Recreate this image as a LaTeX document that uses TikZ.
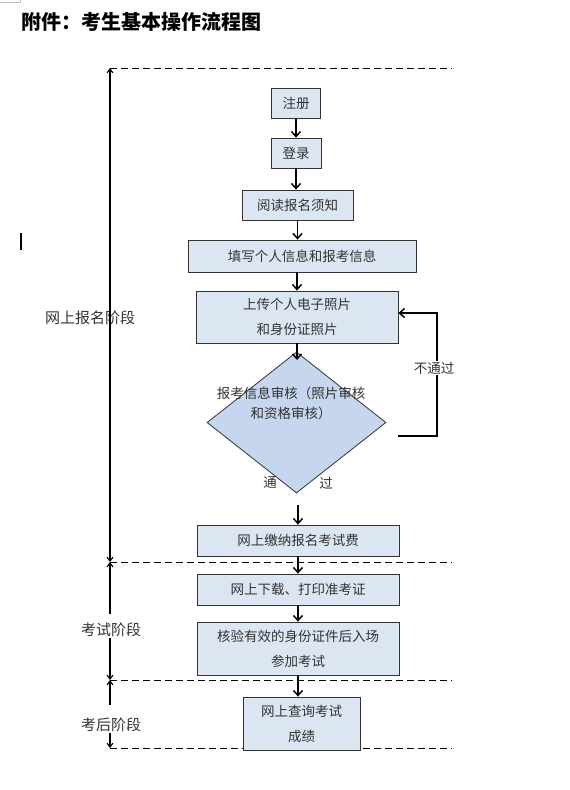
\documentclass[tikz,border=0pt]{standalone}
\usepackage{fontspec}
\setmainfont{Noto Sans CJK SC}
\usetikzlibrary{arrows.meta,shapes.geometric}
\definecolor{boxfill}{HTML}{DCE6F2}
\definecolor{dmdfill}{HTML}{C6D6EE}
\definecolor{txt}{HTML}{333333}
\begin{document}
\begin{tikzpicture}[x=1pt,y=-1pt,
  stepbox/.style={draw=black!80, line width=0.8pt, fill=boxfill, inner sep=0pt, align=center, text=txt, font=\fontsize{13.5}{25}\selectfont},
  arr/.style={line width=1.8pt, line join=miter, -{Straight Barb[length=5pt,width=9pt,line width=1.5pt]}},
  stagedbl/.style={line width=1.1pt, {Straight Barb[length=4pt,width=6pt]}-{Straight Barb[length=4pt,width=6pt]}},
  stageone/.style={line width=1.1pt, -{Straight Barb[length=4pt,width=6pt]}},
  divider/.style={dash pattern=on 7pt off 4pt, line width=0.9pt},
  stagelbl/.style={font=\fontsize{15}{18}\selectfont, text=txt, inner sep=1pt},
  smalllbl/.style={font=\fontsize{13.5}{20}\selectfont, text=txt, inner sep=1pt, align=center}]
\useasboundingbox (0,0) rectangle (570,790);
\fill[white] (0,0) rectangle (570,790);
% artefacts
\draw[gray!50, line width=0.6pt] (0,2) -- (20,2) -- (20,0);
\draw[line width=2pt] (21,233) -- (21,250);
% title
\node[anchor=west, font=\bfseries\fontsize{20}{22}\selectfont, inner sep=0pt] (title) at (21,22) {附件：考生基本操作流程图};
% dividers
\coordinate (d1l) at (110,68);  \coordinate (d1r) at (452,68);
\coordinate (d2l) at (110,562); \coordinate (d2r) at (452,562);
\coordinate (d3l) at (110,680); \coordinate (d3r) at (452,680);
\coordinate (d4l) at (110,748); \coordinate (d4r) at (452,748);
\draw[divider] (d1l) -- (d1r);
\draw[divider] (d2l) -- (d2r);
\draw[divider] (d3l) -- (d3r);
\draw[divider] (d4l) -- (d4r);
% stage labels
\node[stagelbl] (s1) at (90,318) {网上报名阶段};
\draw[stagedbl] (d1l) -- (d2l);
\node[stagelbl] (s2) at (111,630) {考试阶段};
\coordinate (s2a) at (110,614); \coordinate (s2b) at (110,638);
\draw[stageone] (s2a) -- (d2l);
\draw[stageone] (s2b) -- (d3l);
\node[stagelbl] (s3) at (111,725) {考后阶段};
\coordinate (s3a) at (110,705); \coordinate (s3b) at (110,733);
\draw[stageone] (s3a) -- (d3l);
\draw[stageone] (s3b) -- (d4l);
% boxes
\node[stepbox, minimum width=49pt, minimum height=30pt] (reg) at (296,103) {注册};
\node[stepbox, minimum width=50pt, minimum height=30pt] (log) at (296,153) {登录};
\node[stepbox, minimum width=111pt, minimum height=30pt] (read) at (297.5,205) {阅读报名须知};
\node[stepbox, minimum width=228pt, minimum height=32pt] (fill) at (302,256) {填写个人信息和报考信息};
\node[stepbox, minimum width=202pt, minimum height=52pt] (up) at (297,317) {上传个人电子照片\\和身份证照片};
\node[diamond, draw=black!80, line width=0.8pt, fill=dmdfill, minimum width=179pt, minimum height=141pt, inner sep=0pt] (chk) at (296.5,422.5) {};
\node[smalllbl] (chkt) at (291,403) {报考信息审核（照片审核\\和资格审核）};
\node[smalllbl] (pass1) at (270,483) {通};
\node[smalllbl] (pass2) at (326,483) {过};
\node[stepbox, minimum width=202pt, minimum height=31pt] (pay) at (298,540.5) {网上缴纳报名考试费};
\node[stepbox, minimum width=202pt, minimum height=31pt] (dl) at (298,589.5) {网上下载、打印准考证};
\node[stepbox, minimum width=202pt, minimum height=53pt] (ver) at (298,648.5) {核验有效的身份证件后入场\\参加考试};
\node[stepbox, minimum width=117pt, minimum height=53pt] (res) at (301.5,723.5) {网上查询考试\\成绩};
% arrows
\draw[arr] (reg.south) -- (reg.south |- log.north);
\draw[arr] (log.south) -- (log.south |- read.north);
\draw[arr] (read.south) -- (read.south |- fill.north);
\draw[arr] (up.north |- fill.south) -- (up.north);
\coordinate (upin) at (297,360);
\draw[arr] (up.south) -- (upin);
\coordinate (dbot) at (298,505);
\draw[arr] (dbot) -- (pay.north);
\draw[arr] (pay.south) -- (dl.north);
\draw[arr] (dl.south) -- (ver.north);
\draw[arr] (ver.south) -- (ver.south |- res.north);
% loop back
\coordinate (lp) at (398,436);
\coordinate (lc1) at (437,436);
\coordinate (lc2) at (437,313);
\draw[arr] (lp) -- (lc1) -- (lc2) -- (up.east |- lc2);
\node[smalllbl, fill=white] (fail) at (434,368) {不通过};
\end{tikzpicture}
\end{document}
